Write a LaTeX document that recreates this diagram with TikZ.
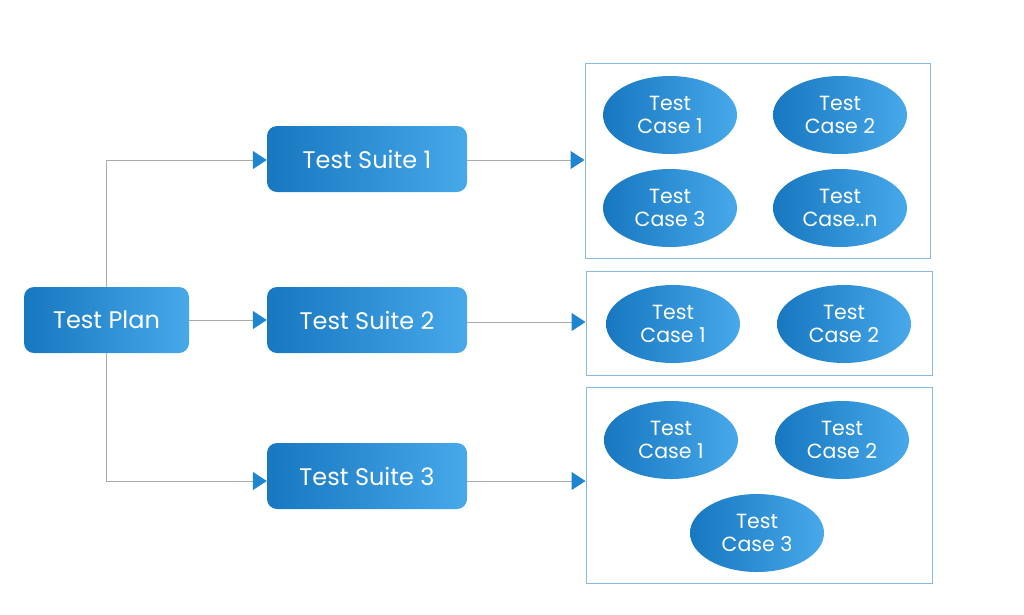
\documentclass[tikz,border=0pt]{standalone}
\usepackage{fontspec}
\setmainfont{Poppins}
\usetikzlibrary{arrows.meta,shapes.geometric}
\definecolor{bluedark}{HTML}{1777C0}
\definecolor{bluelight}{HTML}{47A8EA}
\definecolor{arrowblue}{HTML}{1E86D0}
\definecolor{linegray}{HTML}{ABABAB}
\definecolor{framebl}{HTML}{86BAE0}
\tikzset{
  suite/.style={rectangle, rounded corners=10pt, left color=bluedark, right color=bluelight,
    minimum width=200pt, minimum height=66pt, text=white, font=\fontsize{24}{28}\selectfont, inner sep=0pt},
  tcase/.style={ellipse, left color=bluedark, right color=bluelight, minimum width=134pt,
    minimum height=78pt, text=white, font=\fontsize{20.5}{23}\selectfont, align=center, inner sep=0pt},
  group/.style={rectangle, draw=framebl, line width=1pt, inner sep=0pt},
  conn/.style={draw=linegray, line width=1pt, -{Triangle[length=14pt,width=18pt,color=arrowblue,fill=arrowblue]}},
}
\begin{document}
\begin{tikzpicture}[x=1pt,y=-1pt]
\useasboundingbox (0,0) rectangle (1024,614);
% groups
\node[group, minimum width=345pt, minimum height=195pt] (box1) at (757.5,160.5) {};
\node[group, minimum width=346pt, minimum height=104pt] (box2) at (759,323) {};
\node[group, minimum width=346pt, minimum height=196pt] (box3) at (759,485) {};
% main nodes
\node[suite, minimum width=165pt] (tp) at (106.5,320) {Test Plan};
\node[suite] (s1) at (367,159) {Test Suite 1};
\node[suite] (s2) at (367,320) {Test Suite 2};
\node[suite] (s3) at (367,476) {Test Suite 3};
% test cases
\node[tcase] (a1) at (670,115) {Test\\Case 1};
\node[tcase] (a2) at (840,115) {Test\\Case 2};
\node[tcase] (a3) at (670,208) {Test\\Case 3};
\node[tcase] (an) at (840,208) {Test\\Case..n};
\node[tcase] (b1) at (673,324) {Test\\Case 1};
\node[tcase] (b2) at (844,324) {Test\\Case 2};
\node[tcase] (c1) at (671,440) {Test\\Case 1};
\node[tcase] (c2) at (842,440) {Test\\Case 2};
\node[tcase] (c3) at (757,533) {Test\\Case 3};
% connectors
\draw[conn] (tp.north) |- ([yshift=-1pt]s1.west);
\draw[conn] (tp.east) -- (s2.west);
\draw[conn] (tp.south) |- ([yshift=-5pt]s3.west);
\draw[conn] ([yshift=-1pt]s1.east) -- ([yshift=-1pt]s1.east -| box1.west);
\draw[conn] ([yshift=-2pt]s2.east) -- ([yshift=-2pt]s2.east -| box2.west);
\draw[conn] ([yshift=-5pt]s3.east) -- ([yshift=-5pt]s3.east -| box3.west);
\end{tikzpicture}
\end{document}
